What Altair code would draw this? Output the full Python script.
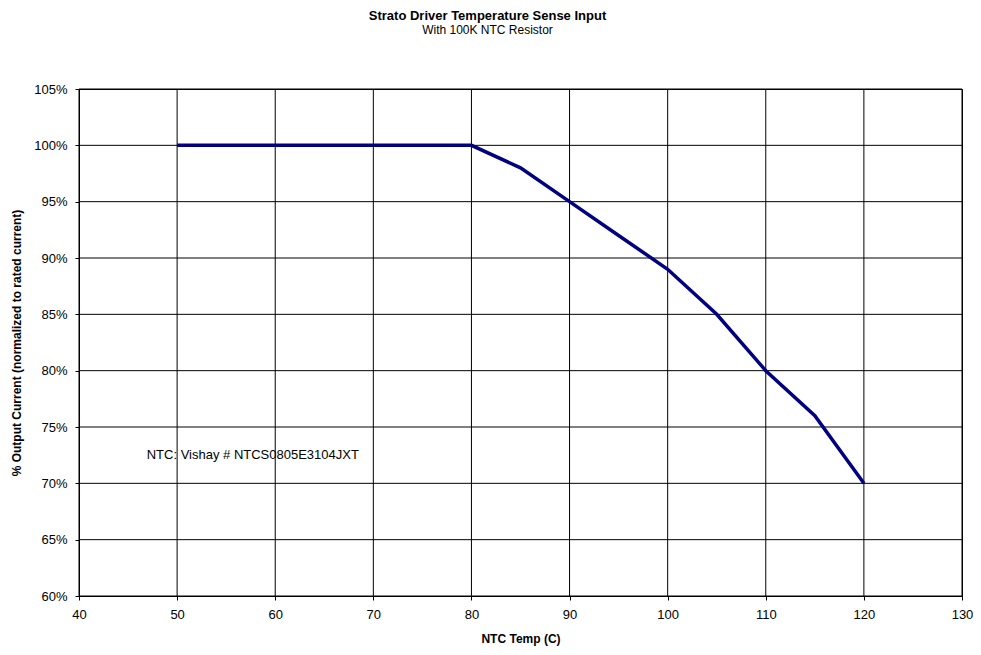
import altair as alt
import pandas as pd

temps = [50, 55, 60, 65, 70, 75, 80, 85, 90, 95, 100, 105, 110, 115, 120]
output_pct = [100, 100, 100, 100, 100, 100, 100, 98, 95, 92, 89, 85, 80, 76, 70]
x_ticks = [40, 50, 60, 70, 80, 90, 100, 110, 120, 130]
y_ticks = [60, 65, 70, 75, 80, 85, 90, 95, 100, 105]
note_text = ["NTC: Vishay # NTCS0805E3104JXT"]
note_x = [46.9]
note_y = [72.5]

df = pd.DataFrame({"temp": temps, "pct": [v / 100 for v in output_pct]})
note_df = pd.DataFrame({"t": note_text, "x": note_x, "y": [v / 100 for v in note_y]})
xg = pd.DataFrame({"x": x_ticks})
yg = pd.DataFrame({"y": [v / 100 for v in y_ticks]})

FONT = "Liberation Sans"
xs = alt.Scale(domain=[40, 130], nice=False, zero=False)
ys = alt.Scale(domain=[0.60, 1.05], nice=False, zero=False)

xaxis = alt.Axis(values=x_ticks, title="NTC Temp (C)", grid=False, tickColor="black",
                 domainColor="black", tickSize=4, labelFontSize=13, labelFont=FONT,
                 labelColor="black", titleFont=FONT, titleFontSize=12, titleFontWeight="bold",
                 titleColor="black", labelPadding=8, titlePadding=12, labelFlush=False)
yaxis = alt.Axis(values=[v / 100 for v in y_ticks], format=".0%", title="% Output Current (normalized to rated current)",
                 grid=False, tickColor="black", domainColor="black", tickSize=4, labelFontSize=13,
                 labelFont=FONT, labelColor="black", titleFont=FONT, titleFontSize=12,
                 titleFontWeight="bold", titleColor="black", labelPadding=8, titlePadding=10,
                 labelFlush=False)

note = alt.Chart(note_df).mark_text(align="left", baseline="middle", font=FONT, fontSize=13, color="black").encode(
    x=alt.X("x:Q", scale=xs, axis=xaxis), y=alt.Y("y:Q", scale=ys, axis=yaxis), text="t:N")

vgrid = alt.Chart(xg).mark_rule(color="black", strokeWidth=1).encode(x=alt.X("x:Q", scale=xs))
hgrid = alt.Chart(yg).mark_rule(color="black", strokeWidth=1).encode(y=alt.Y("y:Q", scale=ys))

line = alt.Chart(df).mark_line(color="#000080", strokeWidth=3.5).encode(
    x=alt.X("temp:Q", scale=xs), y=alt.Y("pct:Q", scale=ys))

chart = alt.layer(note, vgrid, hgrid, line).properties(
    width=883, height=507,
    title=alt.TitleParams("Strato Driver Temperature Sense Input", subtitle="With 100K NTC Resistor",
                          font=FONT, fontSize=13, fontWeight="bold", subtitleFont=FONT, subtitleFontSize=12,
                          color="black", subtitleColor="black", anchor="middle", dx=-33, offset=47,
                          subtitlePadding=2),
    autosize=alt.AutoSizeParams(type="none"),
    padding={"left": 71, "top": 81, "right": 11, "bottom": 51},
).configure_view(stroke="black", strokeWidth=1)

chart.save("out.html", embed_options={"renderer": "svg", "actions": False})
